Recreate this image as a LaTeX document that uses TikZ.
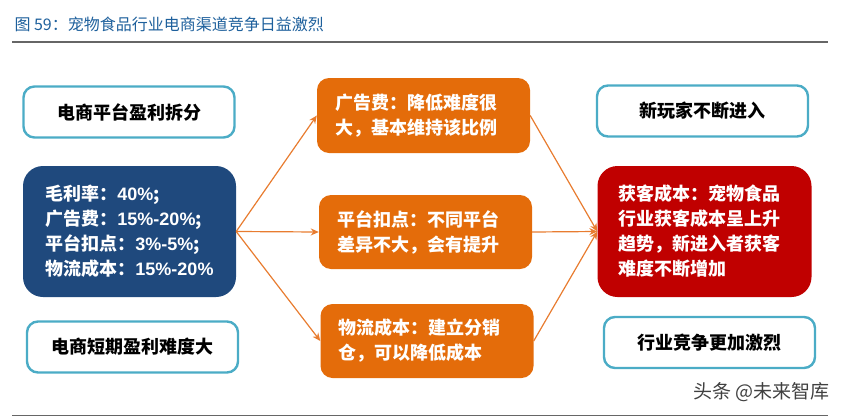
\documentclass[tikz,border=0pt]{standalone}
\usepackage{fontspec}
\usepackage{tikz}
\usetikzlibrary{positioning, arrows.meta}
\newfontfamily\cjk{Noto Sans CJK SC}
\newfontfamily\lat{Liberation Sans}
\definecolor{fig_blue}{RGB}{30, 96, 156}
\definecolor{teal_line}{RGB}{75, 172, 198}
\definecolor{navy_fill}{RGB}{31, 73, 125}
\definecolor{orange_fill}{RGB}{228, 108, 10}
\definecolor{orange_line}{RGB}{232, 124, 48}
\definecolor{red_fill}{RGB}{192, 0, 0}
\newcommand{\pct}[1]{{\lat\bfseries #1}}

\begin{document}
\begin{tikzpicture}[x=1pt, y=-1pt, >={Stealth[length=8pt, width=7pt]},
      font=\cjk\bfseries\fontsize{18}{25}\selectfont,
      plain/.style={draw=teal_line, line width=2.4pt, rounded corners=11pt,
        fill=white, minimum width=211pt, minimum height=51pt, inner sep=0pt},
      bigbox/.style={rounded corners=20pt, text=white, align=left,
        minimum width=213pt, minimum height=131pt},
      costbox/.style={fill=orange_fill, rounded corners=12pt, text=white,
        align=left, text width=177pt, inner xsep=18pt, minimum height=74pt},
      link/.style={->, draw=orange_line, line width=1.2pt},
      rule/.style={draw=black!60, line width=1.5pt}]

    \useasboundingbox (0,0) rectangle (846,418);

    %% ---- heading ----------------------------------------------------------
    \node[anchor=west, text=fig_blue, font=\cjk\fontsize{16}{18}\selectfont]
      (title) at (11,24) {图 59：宠物食品行业电商渠道竞争日益激烈};
    \coordinate (topl) at (12,42);
    \coordinate (topr) at (828,42);
    \draw[rule] (topl) -- (topr);

    %% ---- left column ------------------------------------------------------
    \node[plain] (split) at (129,112) {电商平台盈利拆分};
    \node[bigbox, fill=navy_fill] (margin) at (129.5,231.5)
      {毛利率：\pct{40\%};\\ 广告费：\pct{15\%-20\%};\\
       平台扣点：\pct{3\%-5\%};\\ 物流成本：\pct{15\%-20\%}};
    \node[plain] (hard) at (132.5,347) {电商短期盈利难度大};

    %% ---- middle column ----------------------------------------------------
    \node[costbox, minimum height=75pt] (ads) at (423.5,115.5)
      {广告费：降低难度很\\ 大，基本维持该比例};
    \node[costbox] (fee) at (425.5,232)
      {平台扣点：不同平台\\ 差异不大，会有提升};
    \node[costbox] (ship) at (427,341)
      {物流成本：建立分销\\ 仓，可以降低成本};

    %% ---- right column -----------------------------------------------------
    \node[bigbox, fill=red_fill, text width=172pt, inner xsep=21pt] (acq) at (704.5,231.5)
      {获客成本：宠物食品\\ 行业获客成本呈上升\\ 趋势，新进入者获客\\ 难度不断增加};
    \node[plain] (new) at (702.5,111) {新玩家不断进入};
    \node[plain] (fierce) at (709.5,342.5) {行业竞争更加激烈};

    %% ---- connectors -------------------------------------------------------
    \draw[link] (margin.east) -- (ads.west);
    \draw[link] (margin.east) -- (fee.west);
    \draw[link] (margin.east) -- (ship.west);
    \draw[link] (ads.east) -- (acq.west);
    \draw[link] (fee.east) -- (acq.west);
    \draw[link] (ship.east) -- (acq.west);

    %% ---- footer -----------------------------------------------------------
    \node[anchor=east, text=black!75, font=\cjk\fontsize{19}{21}\selectfont]
      (mark) at (833,392) {头条 @未来智库};
    \coordinate (botl) at (12,415.5);
    \coordinate (botr) at (828,415.5);
    \draw[rule] (botl) -- (botr);
  \end{tikzpicture}
\end{document}
